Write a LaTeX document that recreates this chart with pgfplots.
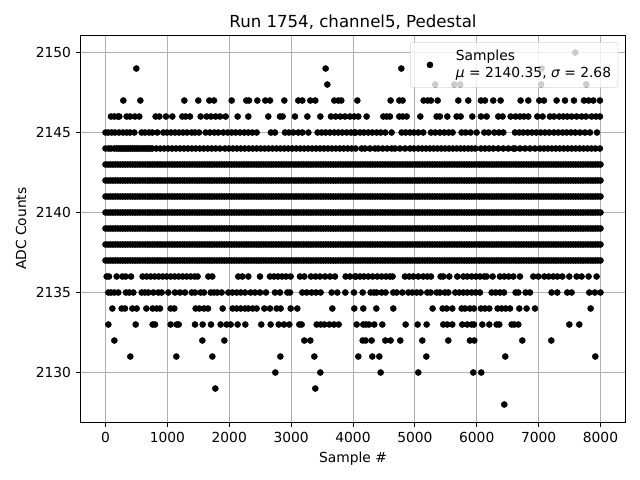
\documentclass[border=0pt]{standalone}
\usepackage{pgfplots}
\usepackage{pgfplotstable}
\pgfplotsset{compat=1.18}
\usepackage{fontspec}
\setmainfont{DejaVu Sans}
\pgfplotstableread{
x a b c d e f g
0 2143 2142 2141 2140 2139 2138 2137
40 2143 2142 2141 2140 2139 2138 2137
80 2143 2142 2141 2140 2139 2138 2137
120 2143 2142 2141 2140 2139 2138 2137
160 2143 2142 2141 2140 2139 2138 2137
200 2143 2142 2141 2140 2139 2138 2137
240 2143 2142 2141 2140 2139 2138 2137
280 2143 2142 2141 2140 2139 2138 2137
320 2143 2142 2141 2140 2139 2138 2137
360 2143 2142 2141 2140 2139 2138 2137
400 2143 2142 2141 2140 2139 2138 2137
440 2143 2142 2141 2140 2139 2138 2137
480 2143 2142 2141 2140 2139 2138 2137
520 2143 2142 2141 2140 2139 2138 2137
560 2143 2142 2141 2140 2139 2138 2137
600 2143 2142 2141 2140 2139 2138 2137
640 2143 2142 2141 2140 2139 2138 2137
680 2143 2142 2141 2140 2139 2138 2137
720 2143 2142 2141 2140 2139 2138 2137
760 2143 2142 2141 2140 2139 2138 2137
800 2143 2142 2141 2140 2139 2138 2137
840 2143 2142 2141 2140 2139 2138 2137
880 2143 2142 2141 2140 2139 2138 2137
920 2143 2142 2141 2140 2139 2138 2137
960 2143 2142 2141 2140 2139 2138 2137
1000 2143 2142 2141 2140 2139 2138 2137
1040 2143 2142 2141 2140 2139 2138 2137
1080 2143 2142 2141 2140 2139 2138 2137
1120 2143 2142 2141 2140 2139 2138 2137
1160 2143 2142 2141 2140 2139 2138 2137
1200 2143 2142 2141 2140 2139 2138 2137
1240 2143 2142 2141 2140 2139 2138 2137
1280 2143 2142 2141 2140 2139 2138 2137
1320 2143 2142 2141 2140 2139 2138 2137
1360 2143 2142 2141 2140 2139 2138 2137
1400 2143 2142 2141 2140 2139 2138 2137
1440 2143 2142 2141 2140 2139 2138 2137
1480 2143 2142 2141 2140 2139 2138 2137
1520 2143 2142 2141 2140 2139 2138 2137
1560 2143 2142 2141 2140 2139 2138 2137
1600 2143 2142 2141 2140 2139 2138 2137
1640 2143 2142 2141 2140 2139 2138 2137
1680 2143 2142 2141 2140 2139 2138 2137
1720 2143 2142 2141 2140 2139 2138 2137
1760 2143 2142 2141 2140 2139 2138 2137
1800 2143 2142 2141 2140 2139 2138 2137
1840 2143 2142 2141 2140 2139 2138 2137
1880 2143 2142 2141 2140 2139 2138 2137
1920 2143 2142 2141 2140 2139 2138 2137
1960 2143 2142 2141 2140 2139 2138 2137
2000 2143 2142 2141 2140 2139 2138 2137
2040 2143 2142 2141 2140 2139 2138 2137
2080 2143 2142 2141 2140 2139 2138 2137
2120 2143 2142 2141 2140 2139 2138 2137
2160 2143 2142 2141 2140 2139 2138 2137
2200 2143 2142 2141 2140 2139 2138 2137
2240 2143 2142 2141 2140 2139 2138 2137
2280 2143 2142 2141 2140 2139 2138 2137
2320 2143 2142 2141 2140 2139 2138 2137
2360 2143 2142 2141 2140 2139 2138 2137
2400 2143 2142 2141 2140 2139 2138 2137
2440 2143 2142 2141 2140 2139 2138 2137
2480 2143 2142 2141 2140 2139 2138 2137
2520 2143 2142 2141 2140 2139 2138 2137
2560 2143 2142 2141 2140 2139 2138 2137
2600 2143 2142 2141 2140 2139 2138 2137
2640 2143 2142 2141 2140 2139 2138 2137
2680 2143 2142 2141 2140 2139 2138 2137
2720 2143 2142 2141 2140 2139 2138 2137
2760 2143 2142 2141 2140 2139 2138 2137
2800 2143 2142 2141 2140 2139 2138 2137
2840 2143 2142 2141 2140 2139 2138 2137
2880 2143 2142 2141 2140 2139 2138 2137
2920 2143 2142 2141 2140 2139 2138 2137
2960 2143 2142 2141 2140 2139 2138 2137
3000 2143 2142 2141 2140 2139 2138 2137
3040 2143 2142 2141 2140 2139 2138 2137
3080 2143 2142 2141 2140 2139 2138 2137
3120 2143 2142 2141 2140 2139 2138 2137
3160 2143 2142 2141 2140 2139 2138 2137
3200 2143 2142 2141 2140 2139 2138 2137
3240 2143 2142 2141 2140 2139 2138 2137
3280 2143 2142 2141 2140 2139 2138 2137
3320 2143 2142 2141 2140 2139 2138 2137
3360 2143 2142 2141 2140 2139 2138 2137
3400 2143 2142 2141 2140 2139 2138 2137
3440 2143 2142 2141 2140 2139 2138 2137
3480 2143 2142 2141 2140 2139 2138 2137
3520 2143 2142 2141 2140 2139 2138 2137
3560 2143 2142 2141 2140 2139 2138 2137
3600 2143 2142 2141 2140 2139 2138 2137
3640 2143 2142 2141 2140 2139 2138 2137
3680 2143 2142 2141 2140 2139 2138 2137
3720 2143 2142 2141 2140 2139 2138 2137
3760 2143 2142 2141 2140 2139 2138 2137
3800 2143 2142 2141 2140 2139 2138 2137
3840 2143 2142 2141 2140 2139 2138 2137
3880 2143 2142 2141 2140 2139 2138 2137
3920 2143 2142 2141 2140 2139 2138 2137
3960 2143 2142 2141 2140 2139 2138 2137
4000 2143 2142 2141 2140 2139 2138 2137
4040 2143 2142 2141 2140 2139 2138 2137
4080 2143 2142 2141 2140 2139 2138 2137
4120 2143 2142 2141 2140 2139 2138 2137
4160 2143 2142 2141 2140 2139 2138 2137
4200 2143 2142 2141 2140 2139 2138 2137
4240 2143 2142 2141 2140 2139 2138 2137
4280 2143 2142 2141 2140 2139 2138 2137
4320 2143 2142 2141 2140 2139 2138 2137
4360 2143 2142 2141 2140 2139 2138 2137
4400 2143 2142 2141 2140 2139 2138 2137
4440 2143 2142 2141 2140 2139 2138 2137
4480 2143 2142 2141 2140 2139 2138 2137
4520 2143 2142 2141 2140 2139 2138 2137
4560 2143 2142 2141 2140 2139 2138 2137
4600 2143 2142 2141 2140 2139 2138 2137
4640 2143 2142 2141 2140 2139 2138 2137
4680 2143 2142 2141 2140 2139 2138 2137
4720 2143 2142 2141 2140 2139 2138 2137
4760 2143 2142 2141 2140 2139 2138 2137
4800 2143 2142 2141 2140 2139 2138 2137
4840 2143 2142 2141 2140 2139 2138 2137
4880 2143 2142 2141 2140 2139 2138 2137
4920 2143 2142 2141 2140 2139 2138 2137
4960 2143 2142 2141 2140 2139 2138 2137
5000 2143 2142 2141 2140 2139 2138 2137
5040 2143 2142 2141 2140 2139 2138 2137
5080 2143 2142 2141 2140 2139 2138 2137
5120 2143 2142 2141 2140 2139 2138 2137
5160 2143 2142 2141 2140 2139 2138 2137
5200 2143 2142 2141 2140 2139 2138 2137
5240 2143 2142 2141 2140 2139 2138 2137
5280 2143 2142 2141 2140 2139 2138 2137
5320 2143 2142 2141 2140 2139 2138 2137
5360 2143 2142 2141 2140 2139 2138 2137
5400 2143 2142 2141 2140 2139 2138 2137
5440 2143 2142 2141 2140 2139 2138 2137
5480 2143 2142 2141 2140 2139 2138 2137
5520 2143 2142 2141 2140 2139 2138 2137
5560 2143 2142 2141 2140 2139 2138 2137
5600 2143 2142 2141 2140 2139 2138 2137
5640 2143 2142 2141 2140 2139 2138 2137
5680 2143 2142 2141 2140 2139 2138 2137
5720 2143 2142 2141 2140 2139 2138 2137
5760 2143 2142 2141 2140 2139 2138 2137
5800 2143 2142 2141 2140 2139 2138 2137
5840 2143 2142 2141 2140 2139 2138 2137
5880 2143 2142 2141 2140 2139 2138 2137
5920 2143 2142 2141 2140 2139 2138 2137
5960 2143 2142 2141 2140 2139 2138 2137
6000 2143 2142 2141 2140 2139 2138 2137
6040 2143 2142 2141 2140 2139 2138 2137
6080 2143 2142 2141 2140 2139 2138 2137
6120 2143 2142 2141 2140 2139 2138 2137
6160 2143 2142 2141 2140 2139 2138 2137
6200 2143 2142 2141 2140 2139 2138 2137
6240 2143 2142 2141 2140 2139 2138 2137
6280 2143 2142 2141 2140 2139 2138 2137
6320 2143 2142 2141 2140 2139 2138 2137
6360 2143 2142 2141 2140 2139 2138 2137
6400 2143 2142 2141 2140 2139 2138 2137
6440 2143 2142 2141 2140 2139 2138 2137
6480 2143 2142 2141 2140 2139 2138 2137
6520 2143 2142 2141 2140 2139 2138 2137
6560 2143 2142 2141 2140 2139 2138 2137
6600 2143 2142 2141 2140 2139 2138 2137
6640 2143 2142 2141 2140 2139 2138 2137
6680 2143 2142 2141 2140 2139 2138 2137
6720 2143 2142 2141 2140 2139 2138 2137
6760 2143 2142 2141 2140 2139 2138 2137
6800 2143 2142 2141 2140 2139 2138 2137
6840 2143 2142 2141 2140 2139 2138 2137
6880 2143 2142 2141 2140 2139 2138 2137
6920 2143 2142 2141 2140 2139 2138 2137
6960 2143 2142 2141 2140 2139 2138 2137
7000 2143 2142 2141 2140 2139 2138 2137
7040 2143 2142 2141 2140 2139 2138 2137
7080 2143 2142 2141 2140 2139 2138 2137
7120 2143 2142 2141 2140 2139 2138 2137
7160 2143 2142 2141 2140 2139 2138 2137
7200 2143 2142 2141 2140 2139 2138 2137
7240 2143 2142 2141 2140 2139 2138 2137
7280 2143 2142 2141 2140 2139 2138 2137
7320 2143 2142 2141 2140 2139 2138 2137
7360 2143 2142 2141 2140 2139 2138 2137
7400 2143 2142 2141 2140 2139 2138 2137
7440 2143 2142 2141 2140 2139 2138 2137
7480 2143 2142 2141 2140 2139 2138 2137
7520 2143 2142 2141 2140 2139 2138 2137
7560 2143 2142 2141 2140 2139 2138 2137
7600 2143 2142 2141 2140 2139 2138 2137
7640 2143 2142 2141 2140 2139 2138 2137
7680 2143 2142 2141 2140 2139 2138 2137
7720 2143 2142 2141 2140 2139 2138 2137
7760 2143 2142 2141 2140 2139 2138 2137
7800 2143 2142 2141 2140 2139 2138 2137
7840 2143 2142 2141 2140 2139 2138 2137
7880 2143 2142 2141 2140 2139 2138 2137
7920 2143 2142 2141 2140 2139 2138 2137
7960 2143 2142 2141 2140 2139 2138 2137
8000 2143 2142 2141 2140 2139 2138 2137
}\dense
\begin{document}
\begin{tikzpicture}[pt/.style={only marks, mark=*, mark size=2.15bp, color=black, mark options={draw=none, fill=black}}]
\useasboundingbox (0bp,0bp) rectangle (460.8bp,345.6bp);
\begin{axis}[
  at={(58.14bp,41.57bp)}, anchor=south west,
  width=392.04bp, height=278.78bp, scale only axis,
  xmin=-400, xmax=8400, ymin=2126.89, ymax=2151.09,
  xtick={0,1000,2000,3000,4000,5000,6000,7000,8000},
  ytick={2130,2135,2140,2145,2150},
  /pgf/number format/assume math mode=true,
  /pgf/number format/1000 sep={},
  grid=major, major grid style={draw=black!31, line width=0.65bp},
  tick style={black, line width=0.65bp},
  tick align=outside, tickpos=left, major tick length=3.5bp,
  axis line style={line width=0.8bp},
  tick label style={font=\fontsize{10}{12}\selectfont},
  label style={font=\fontsize{10}{12}\selectfont},
  title style={font=\fontsize{12}{14}\selectfont, at={(0.5,1)}, anchor=south, yshift=-5.7bp},
  title={Run 1754, channel5, Pedestal},
  xlabel={Sample \#}, ylabel={ADC Counts},
  legend style={at={(0.987,0.982)}, anchor=north east, rounded corners=2bp,
    draw=black!20, fill=white, fill opacity=0.8, draw opacity=0.8, text opacity=1,
    font=\fontsize{10}{12}\selectfont, inner xsep=2.9bp, inner ysep=3.5bp},
  legend cell align=left,
  legend image code/.code={\path[draw=none, fill=none] (0bp,-1bp) rectangle (28bp,1bp);
    \draw[#1, fill opacity=1, draw opacity=1] plot coordinates {(11.3bp,0bp)};},
]
\addplot[pt] coordinates {
(7592,2150)
(498,2149)(3558,2149)(4781,2149)(7049,2149)
(3585,2148)(5330,2148)(5637,2148)(5734,2148)(7040,2148)(7770,2148)
(288,2147)(563,2147)(1274,2147)(1500,2147)(1678,2147)(1754,2147)(2039,2147)(2276,2147)(2319,2147)(2454,2147)(2583,2147)(2659,2147)(2890,2147)(3116,2147)(3181,2147)(3310,2147)(3391,2147)(3698,2147)(3763,2147)(3811,2147)(4070,2147)
(4608,2147)(4748,2147)(4802,2147)(5141,2147)(5206,2147)(5260,2147)(5368,2147)(5702,2147)(5863,2147)(6068,2147)(6133,2147)(6267,2147)(6386,2147)(6709,2147)(6833,2147)(7011,2147)(7086,2147)(7291,2147)(7426,2147)(7571,2147)(7733,2147)(7808,2147)(7884,2147)(7991,2147)
(89,2146)(142,2146)(196,2146)(223,2146)(342,2146)(396,2146)(476,2146)(546,2146)(810,2146)(870,2146)(977,2146)(1080,2146)(1241,2146)(1295,2146)(1365,2146)(1538,2146)(1635,2146)(1705,2146)(1780,2146)(1850,2146)(1942,2146)(2136,2146)(2308,2146)(2631,2146)(2820,2146)(2863,2146)(3062,2146)(3262,2146)(3472,2146)(3644,2146)(3720,2146)(3795,2146)(3870,2146)(3951,2146)(4021,2146)
(4086,2146)(4220,2146)(4490,2146)(4544,2146)(4597,2146)(4748,2146)(4802,2146)(4867,2146)(5088,2146)(5352,2146)(5405,2146)(5524,2146)(5675,2146)(5740,2146)(5928,2146)(6068,2146)(6160,2146)(6348,2146)(6418,2146)(6548,2146)(6628,2146)(6698,2146)(6763,2146)(6833,2146)(6979,2146)(7065,2146)(7183,2146)(7248,2146)(7334,2146)(7399,2146)(7463,2146)(7533,2146)(7614,2146)(7695,2146)(7765,2146)(7857,2146)(7927,2146)(7991,2146)
(0,2145)(45,2145)(99,2145)(153,2145)(218,2145)(283,2145)(342,2145)(396,2145)(466,2145)(584,2145)(638,2145)(703,2145)(757,2145)(837,2145)(934,2145)(994,2145)(1058,2145)(1123,2145)(1188,2145)(1252,2145)(1317,2145)(1392,2145)(1446,2145)(1511,2145)(1618,2145)(1688,2145)(1759,2145)(1823,2145)(1904,2145)(1974,2145)(2039,2145)(2103,2145)(2173,2145)(2243,2145)(2308,2145)(2373,2145)(2443,2145)(2674,2145)(2739,2145)(2901,2145)(2965,2145)(3035,2145)(3116,2145)(3181,2145)(3278,2145)(3428,2145)(3493,2145)(3558,2145)(3628,2145)(3698,2145)(3763,2145)(3827,2145)(3897,2145)(3967,2145)(4021,2145)
(4043,2145)(4113,2145)(4177,2145)(4247,2145)(4312,2145)(4382,2145)(4447,2145)(4522,2145)(4624,2145)(4786,2145)(4851,2145)(4921,2145)(4985,2145)(5055,2145)(5136,2145)(5260,2145)(5330,2145)(5405,2145)(5476,2145)(5546,2145)(5610,2145)(5756,2145)(5820,2145)(5901,2145)(5998,2145)(6122,2145)(6192,2145)(6284,2145)(6359,2145)(6429,2145)(6618,2145)(6688,2145)(6752,2145)(6822,2145)(6892,2145)(6962,2145)(7032,2145)(7102,2145)(7172,2145)(7248,2145)(7318,2145)(7388,2145)(7453,2145)(7523,2145)(7593,2145)(7668,2145)(7749,2145)(7830,2145)(7943,2145)
(0,2144)(50,2144)(89,2144)(140,2144)(180,2144)(212,2144)(244,2144)(276,2144)(308,2144)(340,2144)(372,2144)(404,2144)(436,2144)(468,2144)(500,2144)(532,2144)(564,2144)(596,2144)(628,2144)(660,2144)(692,2144)(724,2144)(756,2144)(820,2144)(884,2144)(948,2144)(1012,2144)(1076,2144)(1140,2144)(1204,2144)(1268,2144)(1332,2144)(1396,2144)(1460,2144)(1524,2144)(1588,2144)(1652,2144)(1716,2144)(1780,2144)(1850,2144)(1931,2144)(1995,2144)(2059,2144)(2123,2144)(2187,2144)(2251,2144)(2315,2144)(2379,2144)(2443,2144)(2507,2144)(2571,2144)(2635,2144)(2699,2144)(2763,2144)(2827,2144)(2891,2144)(2955,2144)(3019,2144)(3083,2144)(3147,2144)(3211,2144)(3275,2144)(3339,2144)(3403,2144)(3467,2144)(3531,2144)(3595,2144)(3659,2144)(3723,2144)(3787,2144)(3851,2144)(3915,2144)(3978,2144)(4042,2144)(4140,2144)(4193,2144)(4274,2144)(4355,2144)(4409,2144)(4480,2144)(4552,2144)(4624,2144)(4678,2144)(4759,2144)(4840,2144)(4921,2144)(4985,2144)(5055,2144)(5117,2144)(5179,2144)(5241,2144)(5303,2144)(5365,2144)(5427,2144)(5489,2144)(5551,2144)(5613,2144)(5675,2144)(5737,2144)(5799,2144)(5861,2144)(5917,2144)(5977,2144)(6068,2144)(6134,2144)(6200,2144)(6267,2144)(6348,2144)(6429,2144)(6510,2144)(6591,2144)(6618,2144)(6699,2144)(6780,2144)(6860,2144)(6941,2144)(7022,2144)(7086,2144)(7150,2144)(7214,2144)(7278,2144)(7342,2144)(7406,2144)(7470,2144)(7534,2144)(7598,2144)(7662,2144)(7726,2144)(7790,2144)(7854,2144)(7918,2144)(7990,2144)
(19,2136)(56,2136)(180,2136)(272,2136)(326,2136)(412,2136)(600,2136)(665,2136)(730,2136)(794,2136)(859,2136)(924,2136)(988,2136)(1053,2136)(1117,2136)(1182,2136)(1247,2136)(1311,2136)(1376,2136)(1441,2136)(1489,2136)(1662,2136)(1726,2136)(2146,2136)(2211,2136)(2308,2136)(2497,2136)(2658,2136)(2723,2136)(2787,2136)(2852,2136)(2917,2136)(2992,2136)(3143,2136)(3213,2136)(3321,2136)(3396,2136)(3466,2136)(3547,2136)(3628,2136)(3709,2136)(3881,2136)(3951,2136)(4032,2136)
(4048,2136)(4113,2136)(4177,2136)(4247,2136)(4317,2136)(4393,2136)(4463,2136)(4533,2136)(4597,2136)(4640,2136)(4840,2136)(4910,2136)(4975,2136)(5055,2136)(5136,2136)(5201,2136)(5260,2136)(5416,2136)(5459,2136)(5556,2136)(5686,2136)(5783,2136)(5847,2136)(5917,2136)(5987,2136)(6052,2136)(6122,2136)(6160,2136)(6257,2136)(6375,2136)(6445,2136)(6515,2136)(6591,2136)(6698,2136)(6914,2136)(6995,2136)(7092,2136)(7162,2136)(7237,2136)(7302,2136)(7383,2136)(7496,2136)(7614,2136)(7695,2136)(7808,2136)(7937,2136)
(46,2135)(89,2135)(143,2135)(207,2135)(331,2135)(385,2135)(450,2135)(585,2135)(638,2135)(692,2135)(773,2135)(854,2135)(908,2135)(1016,2135)(1123,2135)(1204,2135)(1285,2135)(1393,2135)(1447,2135)(1538,2135)(1592,2135)(1700,2135)(1754,2135)(1807,2135)(1877,2135)(1985,2135)(2050,2135)(2120,2135)(2185,2135)(2255,2135)(2346,2135)(2416,2135)(2497,2135)(2594,2135)(2739,2135)(2820,2135)(2939,2135)(2982,2135)(3181,2135)(3251,2135)(3332,2135)(3402,2135)(3477,2135)(3655,2135)(3747,2135)(3876,2135)(4016,2135)
(4156,2135)(4285,2135)(4339,2135)(4382,2135)(4463,2135)(4527,2135)(4651,2135)(4705,2135)(4797,2135)(4894,2135)(4958,2135)(5028,2135)(5093,2135)(5201,2135)(5255,2135)(5352,2135)(5405,2135)(5486,2135)(5540,2135)(5653,2135)(5718,2135)(5783,2135)(5847,2135)(5917,2135)(5982,2135)(6052,2135)(6241,2135)(6305,2135)(6375,2135)(6440,2135)(6628,2135)(6672,2135)(6790,2135)(6860,2135)(7210,2135)(7302,2135)(7463,2135)(7533,2135)(7819,2135)(7910,2135)(8000,2135)
(111,2134)(261,2134)(315,2134)(434,2134)(504,2134)(660,2134)(762,2134)(827,2134)(881,2134)(1053,2134)(1112,2134)(1457,2134)(1517,2134)(1592,2134)(1657,2134)(1894,2134)(2055,2134)(2120,2134)(2185,2134)(2255,2134)(2308,2134)(2378,2134)(2443,2134)(2567,2134)(2659,2134)(2766,2134)(2831,2134)(2993,2134)(3100,2134)(3666,2134)(4021,2134)
(4166,2134)(4377,2134)(4651,2134)(5287,2134)(5449,2134)(5513,2134)(5605,2134)(5756,2134)(5810,2134)(5890,2134)(5955,2134)(6068,2134)(6133,2134)(6203,2134)(6337,2134)(6402,2134)(6467,2134)(6537,2134)(6688,2134)(6806,2134)(6941,2134)(7841,2134)
(46,2133)(488,2133)(762,2133)(800,2133)(1053,2133)(1150,2133)(1183,2133)(1447,2133)(1570,2133)(1705,2133)(1861,2133)(1958,2133)(2023,2133)(2136,2133)(2260,2133)(2518,2133)(2669,2133)(2799,2133)(2885,2133)(2971,2133)(3133,2133)(3170,2133)(3413,2133)(3477,2133)(3537,2133)(3618,2133)(3693,2133)(3768,2133)(4059,2133)
(4166,2133)(4210,2133)(4258,2133)(4344,2133)(4474,2133)(4851,2133)(5045,2133)(5190,2133)(5459,2133)(5524,2133)(5605,2133)(5766,2133)(5847,2133)(5917,2133)(5955,2133)(6090,2133)(6203,2133)(6321,2133)(6364,2133)(6564,2133)(6607,2133)(6672,2133)(7496,2133)(7657,2133)
(143,2132)(1565,2132)(1921,2132)(3213,2132)(3310,2132)(4156,2132)(4204,2132)(4301,2132)(4522,2132)(4608,2132)(4764,2132)(5120,2132)(5540,2132)(5890,2132)(5960,2132)(6736,2132)(7205,2132)
(401,2131)(1145,2131)(1727,2131)(2826,2131)(3375,2131)(4086,2131)(4312,2131)(4425,2131)(5185,2131)(6461,2131)(7916,2131)
(2745,2130)(3472,2130)(4447,2130)(5055,2130)(5944,2130)(6073,2130)
(1775,2129)(3391,2129)
(6445,2128)
};
\addlegendentry{\shortstack[l]{Samples\\{\itshape μ} = 2140.35, {\itshape σ} = 2.68}}
\addplot[pt, forget plot] table[x=x,y=a] {\dense};
\addplot[pt, forget plot] table[x=x,y=b] {\dense};
\addplot[pt, forget plot] table[x=x,y=c] {\dense};
\addplot[pt, forget plot] table[x=x,y=d] {\dense};
\addplot[pt, forget plot] table[x=x,y=e] {\dense};
\addplot[pt, forget plot] table[x=x,y=f] {\dense};
\addplot[pt, forget plot] table[x=x,y=g] {\dense};
\end{axis}
\end{tikzpicture}
\end{document}
